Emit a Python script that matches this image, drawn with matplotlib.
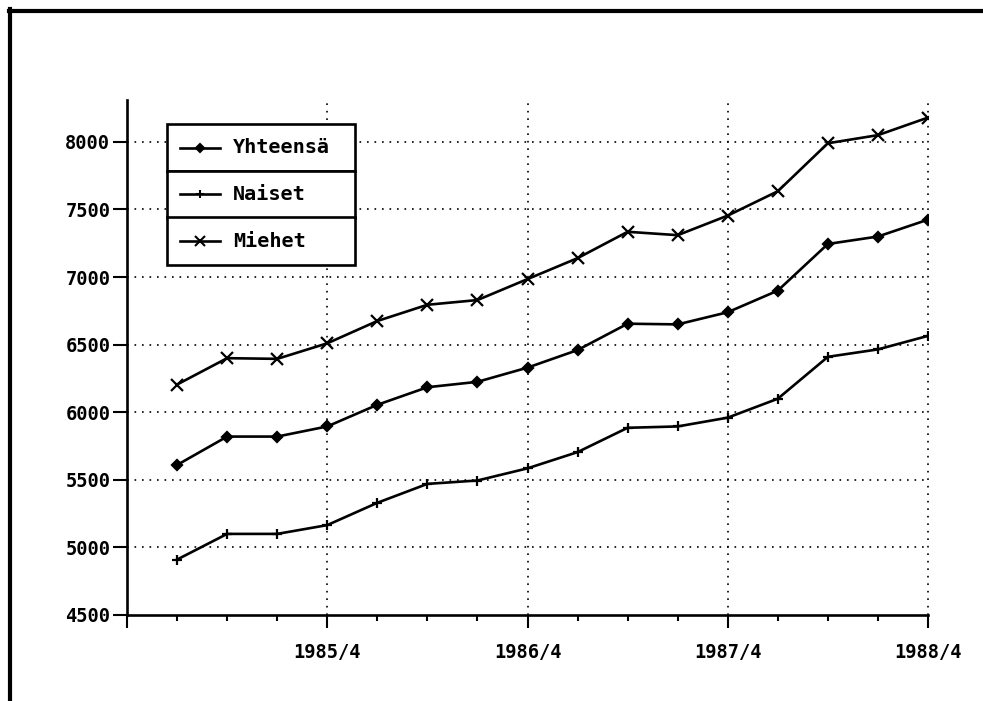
import numpy as np
import matplotlib
matplotlib.use("Agg")
import matplotlib.pyplot as plt
from matplotlib.lines import Line2D
from matplotlib.patches import Rectangle

# ================================== DATA ==================================

quarters = ["1985/1", "1985/2", "1985/3", "1985/4",
            "1986/1", "1986/2", "1986/3", "1986/4",
            "1987/1", "1987/2", "1987/3", "1987/4",
            "1988/1", "1988/2", "1988/3", "1988/4"]

yhteensa = [5610, 5820, 5820, 5895, 6055, 6185, 6225, 6330,
            6460, 6655, 6650, 6740, 6900, 7245, 7300, 7425]
naiset = [4910, 5100, 5100, 5165, 5330, 5470, 5495, 5585,
          5705, 5885, 5895, 5960, 6100, 6410, 6465, 6565]
miehet = [6205, 6400, 6395, 6510, 6675, 6795, 6830, 6985,
          7140, 7335, 7310, 7455, 7635, 7990, 8050, 8180]

series_names = ["Yhteensä", "Naiset", "Miehet"]
series_markers = ["D", "+", "x"]
year_labels = ["1985/4", "1986/4", "1987/4", "1988/4"]
y_ticks = [4500, 5000, 5500, 6000, 6500, 7000, 7500, 8000]

# ================================== PLOT ==================================

FONT = "DejaVu Sans Mono"

fig = plt.figure(figsize=(9.83, 7.01), dpi=100)
ax = fig.add_axes([127 / 983, 1 - 615 / 701, (928 - 127) / 983, (615 - 100) / 701])

x = np.arange(1, len(quarters) + 1)
sizes = {"D": 5.5, "+": 7, "x": 8}
for vals, mk in zip([yhteensa, naiset, miehet], series_markers):
    ax.plot(x, vals, color="black", linewidth=1.9, marker=mk,
            markersize=sizes[mk], markeredgewidth=1.6, zorder=3)

ax.set_xlim(0, len(quarters))
ax.set_ylim(4500, 8310)

# akselit
for s in ["top", "right"]:
    ax.spines[s].set_visible(False)
for s in ["left", "bottom"]:
    ax.spines[s].set_linewidth(1.9)

major_x = [0, 4, 8, 12, 16]
ax.set_xticks(major_x)
ax.set_xticklabels([""] + year_labels)
ax.set_xticks(np.arange(0, 17), minor=True)
ax.set_yticks(y_ticks)
ax.set_yticklabels([str(v) for v in y_ticks])

ax.tick_params(axis="x", which="major", direction="out", length=9.5, width=1.5, pad=11)
ax.tick_params(axis="x", which="minor", direction="out", length=4.5, width=1.5)
ax.tick_params(axis="y", which="major", direction="out", length=10, width=1.5, pad=2)

for lab in ax.get_xticklabels() + ax.get_yticklabels():
    lab.set_fontfamily(FONT)
    lab.set_fontweight("bold")
    lab.set_fontsize(13.5)

# ruudukko pisteviivoilla
for yv in y_ticks[1:]:
    ax.plot([0, 16], [yv, yv], color="black", linewidth=1.2,
            linestyle=(0, (1, 3.5)), zorder=1)
for xv in major_x[1:]:
    ax.plot([xv, xv], [4500, 8310], color="black", linewidth=1.2,
            linestyle=(0, (1, 3.5)), zorder=1, clip_on=False)

# selite: kolme päällekkäistä laatikkoa
W, H = 983, 701
rows = [(124, 171), (171, 217.5), (217.5, 265)]
for (top, bot), name, mk in zip(rows, series_names, series_markers):
    fig.add_artist(Rectangle((167 / W, 1 - bot / H), (355 - 167) / W, (bot - top) / H,
                             transform=fig.transFigure, facecolor="white",
                             edgecolor="black", linewidth=1.9, zorder=5))
    yc = 1 - ((top + bot) / 2) / H
    fig.add_artist(Line2D([180 / W, 220 / W], [yc, yc], transform=fig.transFigure,
                          color="black", linewidth=1.9, zorder=6))
    fig.add_artist(Line2D([200 / W], [yc], transform=fig.transFigure, color="black",
                          marker=mk, markersize=sizes[mk] - 1, markeredgewidth=1.5,
                          zorder=6))
    fig.text(233 / W, yc, name, fontfamily=FONT,
             fontweight="bold", fontsize=14.5, va="center", ha="left", zorder=7)

# kehys ylhäällä ja vasemmalla
fig.add_artist(Line2D([9 / W, 1.0], [1 - 11 / H, 1 - 11 / H], transform=fig.transFigure,
                      color="black", linewidth=3))
fig.add_artist(Line2D([10 / W, 10 / W], [1 - 9 / H, 0.0], transform=fig.transFigure,
                      color="black", linewidth=3))

fig.savefig("out.png", dpi=100)
